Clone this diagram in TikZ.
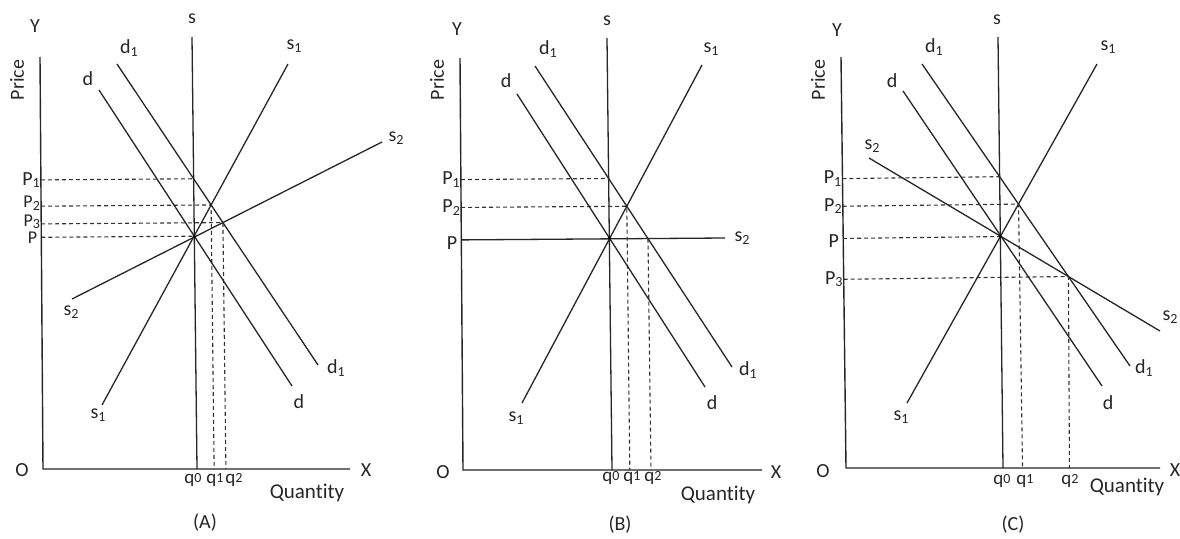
\documentclass[tikz,border=0pt]{standalone}
\usepackage{fontspec}
\setmainfont{Carlito}[Ligatures=CommonOff]
\usetikzlibrary{calc}
\newcommand{\lo}[1]{\raisebox{-0.12em}{\fontsize{14}{14}\selectfont #1}}
\newcommand{\qs}[1]{\raisebox{0.05em}{\fontsize{14}{14}\selectfont #1}}
\tikzset{
  curve/.style={line width=1.3pt, draw=black!85},
  axisline/.style={line width=1.4pt, draw=black!85},
  guide/.style={line width=1.1pt, draw=black!80, dash pattern=on 4pt off 3pt},
  lab/.style={inner sep=0pt, font=\fontsize{20}{22}\selectfont, text=black!85},
  plab/.style={lab, anchor=east},
  tightp/.style={plab, font=\fontsize{18}{20}\selectfont, text height=0.62em, text depth=0.08em},
  qlab/.style={inner sep=0pt, font=\fontsize{19}{22}\selectfont, text=black!85},
  biglab/.style={lab, font=\fontsize{21}{24}\selectfont}
}
\begin{document}
\begin{tikzpicture}[x=1pt,y=-1pt]
\fill[white] (0,0) rectangle (1180,538);
\useasboundingbox (0,0) rectangle (1180,538);

% ================= Panel A =================
\coordinate (aYt) at (40,57);
\coordinate (aO) at (43,469);
\coordinate (aXr) at (350,469);
\coordinate (aSt) at (192,37);
\coordinate (aSb) at (197,469);
\coordinate (aDt) at (99,90);
\coordinate (aDb) at (292,386);
\coordinate (aD1t) at (117,64);
\coordinate (aD1b) at (318,365);
\coordinate (aS1b) at (102,405);
\coordinate (aS1t) at (288,64);
\coordinate (aS2b) at (72,299);
\coordinate (aS2t) at (382,142);
\coordinate (aE) at (intersection of aDt--aDb and aSt--aSb);
\coordinate (aQ1) at (intersection of aD1t--aD1b and aSt--aSb);
\coordinate (aQ2) at (intersection of aD1t--aD1b and aS1b--aS1t);
\coordinate (aQ3) at (intersection of aD1t--aD1b and aS2b--aS2t);
\coordinate (aA1) at ($(aYt)!(aQ1)!(aO)$);
\coordinate (aA2) at ($(aYt)!(aQ2)!(aO)$);
\coordinate (aA3) at ($(aYt)!(aQ3)!(aO)$);
\coordinate (aA0) at ($(aYt)!(aE)!(aO)$);
\coordinate (aB2) at ($(aQ2 |- aO)+(3,0)$);
\coordinate (aB3) at ($(aQ3 |- aO)+(3,0)$);

\draw[guide] (aA1) -- (aQ1);
\draw[guide] (aA2) -- (aQ2) -- (aB2);
\draw[guide] (aA3) -- (aQ3) -- (aB3);
\draw[guide] (aA0) -- (aE);
\draw[axisline] (aYt) -- (aO) -- (aXr);
\draw[curve] (aSt) -- (aSb);
\draw[curve] (aDt) -- (aDb);
\draw[curve] (aD1t) -- (aD1b);
\draw[curve] (aS1b) -- (aS1t);
\draw[curve] (aS2b) -- (aS2t);
\fill[black] (aE) circle (1.6);

\node[lab] (aLY) at (35,26) {Y};
\node[lab, rotate=90] (aLPrice) at (17,80) {Price};
\node[lab] (aLs) at (192,19) {s};
\node[lab] (aLd1) at (129,48) {d\lo{1}};
\node[lab] (aLd) at (88,79) {d};
\node[lab] (aLs1) at (294,46) {s\lo{1}};
\node[lab] (aLs2) at (396,138) {s\lo{2}};
\node[plab] (aLP1) at ($(aA1)+(-1,0)$) {P\lo{1}};
\node[tightp] (aLP2) at ($(aA2)+(-1,-1)$) {P\lo{2}};
\node[tightp] (aLP3) at ($(aA3)+(-1,0)$) {P\lo{3}};
\node[tightp] (aLP) at ($(aA0)+(-4,4)$) {P};
\node[lab] (aLs2b) at (71,312) {s\lo{2}};
\node[lab] (aLs1b) at (98,415) {s\lo{1}};
\node[lab] (aLdb) at (299,402) {d};
\node[lab] (aLd1b) at (336,368) {d\lo{1}};
\node[lab] (aLO) at (22,470) {O};
\node[lab] (aLX) at (366,470) {X};
\node[qlab] (aLq0) at (193,480) {q\qs{0}};
\node[qlab] (aLq1) at (215,480) {q\qs{1}};
\node[qlab] (aLq2) at (234,480) {q\qs{2}};
\node[biglab] (aLQ) at (307,493) {Quantity};
\node[lab] (aLA) at (205,523) {(A)};

% ================= Panel B =================
\coordinate (bYt) at (460,58);
\coordinate (bO) at (463,470);
\coordinate (bXr) at (762,470);
\coordinate (bSt) at (607,38);
\coordinate (bSb) at (612,470);
\coordinate (bDt) at (517,94);
\coordinate (bDb) at (705,387);
\coordinate (bD1t) at (535,66);
\coordinate (bD1b) at (732,367);
\coordinate (bS1b) at (522,403);
\coordinate (bS1t) at (702,65);
\coordinate (bS2r) at (725,238);
\coordinate (bS2l) at ($(bYt)!(bS2r)!(bO)$);
\coordinate (bE) at (intersection of bDt--bDb and bSt--bSb);
\coordinate (bQ1) at (intersection of bD1t--bD1b and bSt--bSb);
\coordinate (bQ2) at (intersection of bD1t--bD1b and bS1b--bS1t);
\coordinate (bQ3) at (intersection of bD1t--bD1b and bS2l--bS2r);
\coordinate (bA1) at ($(bYt)!(bQ1)!(bO)$);
\coordinate (bA2) at ($(bYt)!(bQ2)!(bO)$);
\coordinate (bB2) at ($(bQ2 |- bO)+(3,0)$);
\coordinate (bB3) at ($(bQ3 |- bO)+(3,0)$);

\draw[guide] (bA1) -- (bQ1);
\draw[guide] (bA2) -- (bQ2) -- (bB2);
\draw[guide] (bQ3) -- (bB3);
\draw[axisline] (bYt) -- (bO) -- (bXr);
\draw[curve] (bSt) -- (bSb);
\draw[curve] (bDt) -- (bDb);
\draw[curve] (bD1t) -- (bD1b);
\draw[curve] (bS1b) -- (bS1t);
\draw[curve] (bS2l) -- (bS2r);
\fill[black] (bE) circle (1.6);

\node[lab] (bLY) at (457,29) {Y};
\node[lab, rotate=90] (bLPrice) at (437,80) {Price};
\node[lab] (bLs) at (607,21) {s};
\node[lab] (bLd1) at (548,49) {d\lo{1}};
\node[lab] (bLd) at (506,81) {d};
\node[lab] (bLs1) at (711,49) {s\lo{1}};
\node[plab] (bLP1) at ($(bA1)+(-1,0)$) {P\lo{1}};
\node[plab] (bLP2) at ($(bA2)+(-1,0)$) {P\lo{2}};
\node[plab] (bLP) at ($(bS2l)+(-4,3)$) {P};
\node[lab] (bLs2) at (742,238) {s\lo{2}};
\node[lab] (bLs1b) at (516,418) {s\lo{1}};
\node[lab] (bLdb) at (712,403) {d};
\node[lab] (bLd1b) at (748,370) {d\lo{1}};
\node[lab] (bLO) at (443,472) {O};
\node[lab] (bLX) at (776,472) {X};
\node[qlab] (bLq0) at (611,478) {q\qs{0}};
\node[qlab] (bLq1) at (632,478) {q\qs{1}};
\node[qlab] (bLq2) at (653,478) {q\qs{2}};
\node[biglab] (bLQ) at (718,495) {Quantity};
\node[lab] (bLB) at (620,525) {(B)};

% ================= Panel C =================
\coordinate (cYt) at (841,57);
\coordinate (cO) at (846,468);
\coordinate (cXr) at (1160,468);
\coordinate (cSt) at (998,37);
\coordinate (cSb) at (1003,468);
\coordinate (cDt) at (903,91);
\coordinate (cDb) at (1102,386);
\coordinate (cD1t) at (922,64);
\coordinate (cD1b) at (1130,366);
\coordinate (cS1b) at (907,403);
\coordinate (cS1t) at (1097,64);
\coordinate (cS2l) at (869,158);
\coordinate (cS2r) at (1160,331);
\coordinate (cE) at (intersection of cS1b--cS1t and cSt--cSb);
\coordinate (cQ1) at (intersection of cD1t--cD1b and cSt--cSb);
\coordinate (cQ2) at (intersection of cD1t--cD1b and cS1b--cS1t);
\coordinate (cQ3) at (intersection of cD1t--cD1b and cS2l--cS2r);
\coordinate (cA1) at ($(cYt)!(cQ1)!(cO)$);
\coordinate (cA2) at ($(cYt)!(cQ2)!(cO)$);
\coordinate (cA0) at ($(cYt)!(cE)!(cO)$);
\coordinate (cA3) at ($(cYt)!(cQ3)!(cO)$);
\coordinate (cB2) at ($(cQ2 |- cO)+(4,0)$);
\coordinate (cB3) at ($(cQ3 |- cO)+(1,0)$);

\draw[guide] (cA1) -- (cQ1);
\draw[guide] (cA2) -- (cQ2) -- (cB2);
\draw[guide] (cA0) -- (cE);
\draw[guide] (cA3) -- (cQ3) -- (cB3);
\draw[axisline] (cYt) -- (cO) -- (cXr);
\draw[curve] (cSt) -- (cSb);
\draw[curve] (cDt) -- (cDb);
\draw[curve] (cD1t) -- (cD1b);
\draw[curve] (cS1b) -- (cS1t);
\draw[curve] (cS2l) -- (cS2r);
\fill[black] (cE) circle (1.6);

\node[lab] (cLY) at (837,30) {Y};
\node[lab, rotate=90] (cLPrice) at (818,80) {Price};
\node[lab] (cLs) at (997,20) {s};
\node[lab] (cLd1) at (934,47) {d\lo{1}};
\node[lab] (cLd) at (892,81) {d};
\node[lab] (cLs1) at (1108,47) {s\lo{1}};
\node[lab] (cLs2t) at (872,146) {s\lo{2}};
\node[plab] (cLP1) at ($(cA1)+(-1,0)$) {P\lo{1}};
\node[plab] (cLP2) at ($(cA2)+(-1,0)$) {P\lo{2}};
\node[plab] (cLP) at ($(cA0)+(-4,3)$) {P};
\node[plab] (cLP3) at ($(cA3)+(-1,0)$) {P\lo{3}};
\node[lab] (cLs2r) at (1170,317) {s\lo{2}};
\node[lab] (cLd1b) at (1144,368) {d\lo{1}};
\node[lab] (cLdb) at (1108,403) {d};
\node[lab] (cLs1b) at (901,417) {s\lo{1}};
\node[lab] (cLO) at (823,471) {O};
\node[lab] (cLX) at (1175,470) {X};
\node[qlab] (cLq0) at (1002,481) {q\qs{0}};
\node[qlab] (cLq1) at (1025,481) {q\qs{1}};
\node[qlab] (cLq2) at (1070,481) {q\qs{2}};
\node[biglab] (cLQ) at (1127,487) {Quantity};
\node[lab] (cLC) at (1013,525) {(C)};
\end{tikzpicture}
\end{document}
